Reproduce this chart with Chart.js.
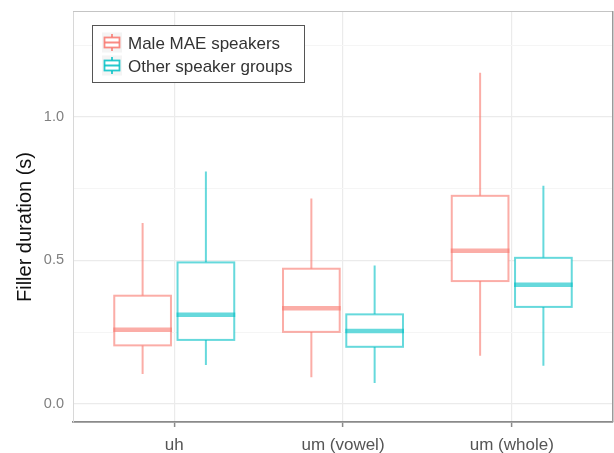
<!DOCTYPE html>
<html>
<head>
<meta charset="utf-8">
<script src="https://cdn.jsdelivr.net/npm/chart.js@4/dist/chart.umd.min.js"></script>
<style>
  html, body { margin: 0; padding: 0; background: #fff; }
  canvas { display: block; }
</style>
</head>
<body>
<canvas id="c" width="614" height="453"></canvas>
<script>
// Filler types on the x axis
const categories = ['uh', 'um (vowel)', 'um (whole)'];
const seriesNames = ['Male MAE speakers', 'Other speaker groups'];

// Box-plot statistics (seconds): lower whisker, Q1, median, Q3, upper whisker
const maleLow    = [0.104, 0.093, 0.168];
const maleQ1     = [0.204, 0.251, 0.428];
const maleMedian = [0.258, 0.333, 0.534];
const maleQ3     = [0.377, 0.471, 0.725];
const maleHigh   = [0.630, 0.716, 1.154];

const otherLow    = [0.136, 0.073, 0.133];
const otherQ1     = [0.223, 0.199, 0.338];
const otherMedian = [0.311, 0.254, 0.415];
const otherQ3     = [0.493, 0.312, 0.509];
const otherHigh   = [0.810, 0.482, 0.760];

// Gridline positions; labels only on the half-second marks
const yTicks = [0, 0.25, 0.5, 0.75, 1.0, 1.25];
const yLabelled = [0, 0.5, 1.0];

const maleColor  = 'rgba(248,118,109,0.6)';
const otherColor = 'rgba(0,191,196,0.6)';
const maleKey    = 'rgba(248,118,109,0.85)';
const otherKey   = 'rgba(0,191,196,0.85)';
const FONT = '"Liberation Sans", Arial, Helvetica, sans-serif';

const DODGE = 0.1875;   // centre offset of each group's box (x units)
const HALF_W = 0.168;   // half box width (x units)

const series = [
  { name: seriesNames[0], color: maleColor, key: maleKey, offset: -DODGE,
    low: maleLow, q1: maleQ1, med: maleMedian, q3: maleQ3, high: maleHigh },
  { name: seriesNames[1], color: otherColor, key: otherKey, offset: DODGE,
    low: otherLow, q1: otherQ1, med: otherMedian, q3: otherQ3, high: otherHigh }
];

// Draws the boxes, whiskers and medians through the chart's scales
const boxplotPlugin = {
  id: 'boxplot',
  beforeDatasetsDraw(chart) {
    const { ctx, scales: { x, y } } = chart;
    ctx.save();
    series.forEach(s => {
      categories.forEach((c, i) => {
        const xc = x.getPixelForValue(i + 1 + s.offset);
        const xl = x.getPixelForValue(i + 1 + s.offset - HALF_W);
        const xr = x.getPixelForValue(i + 1 + s.offset + HALF_W);
        const yLow = y.getPixelForValue(s.low[i]);
        const yQ1 = y.getPixelForValue(s.q1[i]);
        const yMed = y.getPixelForValue(s.med[i]);
        const yQ3 = y.getPixelForValue(s.q3[i]);
        const yHigh = y.getPixelForValue(s.high[i]);
        ctx.strokeStyle = s.color;
        ctx.lineWidth = 2;
        ctx.lineCap = 'butt';
        // whiskers
        ctx.beginPath();
        ctx.moveTo(xc, yHigh); ctx.lineTo(xc, yQ3);
        ctx.moveTo(xc, yQ1); ctx.lineTo(xc, yLow);
        ctx.stroke();
        // box
        ctx.fillStyle = '#ffffff';
        ctx.fillRect(xl, yQ3, xr - xl, yQ1 - yQ3);
        ctx.strokeRect(xl, yQ3, xr - xl, yQ1 - yQ3);
        // median
        ctx.lineWidth = 4.5;
        ctx.beginPath();
        ctx.moveTo(xl - 1, yMed); ctx.lineTo(xr + 1, yMed);
        ctx.stroke();
      });
    });
    ctx.restore();
  },
  afterDraw(chart) {
    const { ctx, chartArea: a } = chart;
    ctx.save();
    // panel border (top and right)
    ctx.strokeStyle = '#c4c4c4';
    ctx.lineWidth = 1;
    ctx.beginPath();
    ctx.moveTo(a.left, a.top + 0.5); ctx.lineTo(a.right, a.top + 0.5);
    ctx.stroke();
    ctx.strokeStyle = '#9a9a9a';
    ctx.lineWidth = 1.5;
    ctx.beginPath();
    ctx.moveTo(a.right - 0.25, a.top); ctx.lineTo(a.right - 0.25, a.bottom);
    ctx.stroke();

    // y axis title
    ctx.fillStyle = '#111';
    ctx.font = '20px ' + FONT;
    ctx.textAlign = 'center';
    ctx.textBaseline = 'middle';
    ctx.translate(25, 227);
    ctx.rotate(-Math.PI / 2);
    ctx.fillText('Filler duration (s)', 0, 0);
    ctx.setTransform(1, 0, 0, 1, 0, 0);

    // legend
    const lx = 92.5, ly = 25.5, lw = 212, lh = 57;
    ctx.fillStyle = '#fff';
    ctx.fillRect(lx, ly, lw, lh);
    ctx.strokeStyle = '#555';
    ctx.lineWidth = 1;
    ctx.strokeRect(lx, ly, lw, lh);
    series.forEach((s, k) => {
      const cy = 42.5 + k * 23;
      const ix = 112;
      ctx.fillStyle = '#f4f4f4';
      ctx.fillRect(ix - 10, cy - 10, 20, 20);
      ctx.strokeStyle = s.key;
      ctx.lineWidth = 1.8;
      ctx.beginPath();
      ctx.moveTo(ix, cy - 8.5); ctx.lineTo(ix, cy - 5);
      ctx.moveTo(ix, cy + 5); ctx.lineTo(ix, cy + 8.5);
      ctx.stroke();
      ctx.fillStyle = '#fff';
      ctx.fillRect(ix - 7.5, cy - 5, 15, 10);
      ctx.strokeRect(ix - 7.5, cy - 5, 15, 10);
      ctx.lineWidth = 2;
      ctx.beginPath();
      ctx.moveTo(ix - 7.5, cy); ctx.lineTo(ix + 7.5, cy);
      ctx.stroke();
      ctx.fillStyle = '#333';
      ctx.font = '17px ' + FONT;
      ctx.textAlign = 'left';
      ctx.textBaseline = 'middle';
      ctx.fillText(s.name, 128, cy + 1.5);
    });
    ctx.restore();
  }
};

const isLabelled = v => yLabelled.some(t => Math.abs(t - v) < 1e-9);

new Chart(document.getElementById('c'), {
  type: 'scatter',
  data: {
    datasets: series.map(s => ({
      label: s.name,
      data: categories.map((c, i) => ({ x: i + 1 + s.offset, y: s.med[i] })),
      pointRadius: 0,
      pointHoverRadius: 0,
      borderColor: s.color,
      backgroundColor: s.color
    }))
  },
  options: {
    responsive: false,
    animation: false,
    events: [],
    layout: { padding: { top: 11, right: 1, left: 0, bottom: 0 } },
    plugins: { legend: { display: false }, tooltip: { enabled: false } },
    scales: {
      x: {
        type: 'linear',
        min: 0.4,
        max: 3.6,
        afterBuildTicks: s => { s.ticks = categories.map((c, i) => ({ value: i + 1 })); },
        afterFit: s => { s.height = 31; s.paddingLeft = 0; s.paddingRight = 0; },
        ticks: {
          callback: v => categories[Math.round(v) - 1],
          color: '#555',
          font: { family: FONT, size: 17 },
          padding: 8,
          maxRotation: 0,
          autoSkip: false
        },
        grid: { color: '#ebebeb', lineWidth: 1.2, drawTicks: true, tickLength: 5, tickColor: '#8a8a8a', tickWidth: 1.5 },
        border: { display: true, color: '#8a8a8a', width: 1.8 }
      },
      y: {
        type: 'linear',
        min: -0.063,
        max: 1.369,
        afterBuildTicks: s => { s.ticks = yTicks.map(v => ({ value: v })); },
        afterFit: s => { s.width = 73; s.paddingTop = 0; s.paddingBottom = 0; },
        ticks: {
          callback: v => isLabelled(v) ? v.toFixed(1) : '',
          color: '#808080',
          font: { family: FONT, size: 14.5 },
          padding: 9,
          autoSkip: false
        },
        grid: {
          color: c => (c.tick && isLabelled(c.tick.value)) ? '#ebebeb' : '#f5f5f5',
          lineWidth: c => (c.tick && isLabelled(c.tick.value)) ? 1.3 : 1,
          drawTicks: false
        },
        border: { display: true, color: '#d8d8d8', width: 1 }
      }
    }
  },
  plugins: [boxplotPlugin]
});
</script>
</body>
</html>
